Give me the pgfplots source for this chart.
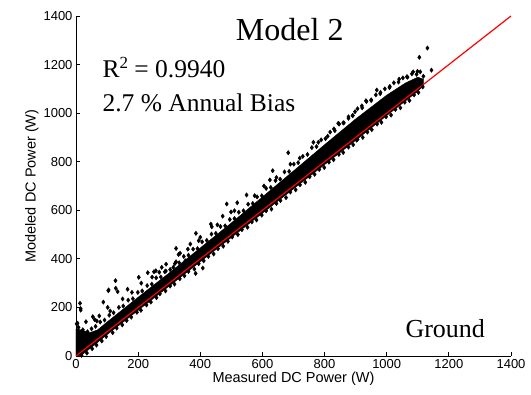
\documentclass[border=0pt]{standalone}
\usepackage{pgfplots}
\pgfplotsset{compat=1.18}
\usepackage{fontspec}
\setmainfont{Liberation Serif}
\newfontfamily\arial{Liberation Sans}
\begin{document}
\begin{tikzpicture}
\begin{axis}[
  at={(0,0)}, anchor=south west,
  scale only axis, width=435bp, height=340bp,
  xmin=0, xmax=1400, ymin=0, ymax=1400,
  axis x line*=bottom, axis y line*=left,
  xtick={0,200,...,1400}, ytick={0,200,...,1400},
  tick align=inside, major tick length=4bp,
  /pgf/number format/assume math mode=true,
  /pgf/number format/1000 sep={},
  tick label style={font=\arial\fontsize{13bp}{15bp}\selectfont, black},
  label style={font=\arial\fontsize{14.5bp}{16bp}\selectfont},
  xlabel={Measured DC Power (W)},
  ylabel={Modeled DC Power (W)},
  xlabel style={yshift=4bp},
  ylabel style={yshift=-2bp},
  axis line style={line width=0.8pt},
  every tick/.style={black, line width=0.8pt},
]
% dense core of the scatter
\addplot[fill=black, draw=black, line width=0.4pt] coordinates {
(0,0) (0,112) (20,106) (45,96) (70,108) (100,140) (200,242) (300,342) (400,445)
(500,548) (600,655) (700,762) (800,870) (900,976) (1000,1074) (1060,1124)
(1100,1148) (1118,1140)
(1118,1112) (1100,1090) (1000,990) (900,888) (800,788) (700,688) (600,588)
(500,488) (400,388) (300,288) (200,188) (100,88) (50,36) (20,6) (5,0)
} -- cycle;
% individual measurements
\addplot[only marks, mark=diamond*, mark size=2.2pt, black] table {
x y
8 118
22 108
37 100
50 112
63 122
78 140
92 148
107 168
121 178
138 200
152 206
168 230
183 236
199 262
213 268
229 290
244 296
258 322
273 325
289 350
303 356
318 380
332 384
347 410
362 415
377 440
391 442
406 470
421 476
436 502
450 505
465 533
480 536
495 562
510 566
524 592
539 598
554 625
569 628
583 655
598 660
612 690
627 694
642 722
657 728
671 758
686 760
701 790
715 796
730 822
745 830
759 858
774 862
789 890
803 895
818 922
833 928
847 955
862 960
877 985
891 990
906 1018
921 1022
935 1048
950 1052
965 1075
979 1080
994 1100
1009 1105
1023 1125
1038 1128
1052 1145
1067 1148
1081 1162
1096 1160
1108 1170
1118 1152
18 3
35 12
52 30
66 45
83 62
97 80
118 96
131 115
149 128
163 146
178 160
196 180
209 188
227 210
241 222
259 240
270 256
288 268
303 288
317 296
334 318
349 330
362 348
381 358
395 380
411 392
426 410
443 420
457 442
474 452
489 472
503 490
521 500
534 520
552 530
566 552
581 560
598 580
612 598
629 605
645 628
658 640
676 652
690 675
707 684
721 705
738 715
752 738
768 748
783 768
799 776
814 798
829 808
846 830
860 838
877 860
892 870
906 892
923 900
938 922
952 932
969 955
983 962
998 985
1014 992
1028 1015
1044 1022
1058 1045
1073 1052
1088 1075
1102 1085
1116 1108
60 150
75 165
110 185
150 235
180 262
210 300
245 325
290 378
330 418
360 440
395 475
455 540
510 598
575 660
605 700
645 735
690 790
720 815
780 880
810 905
830 935
860 960
890 990
920 1030
950 1055
980 1085
1010 1110
1040 1140
1065 1150
1085 1170
1131 1268
1105 1230
1144 1177
1099 1172
485 626
499 593
472 576
434 543
386 505
400 489
368 461
322 443
335 423
352 392
322 388
257 351
231 343
268 345
202 324
127 310
105 272
166 275
134 265
88 222
102 200
15 189
54 162
5 135
13 217
15 195
2 132
32 141
67 144
104 269
128 279
683 837
764 880
633 763
624 725
549 663
519 631
437 532
276 365
313 365
251 347
286 347
968 1095
933 1051
898 1006
877 979
844 958
903 889
408 362
385 340
};
% 1:1 line
\addplot[red, line width=1.2pt] coordinates {(0,0) (1400,1400)};
\node[font=\fontsize{32bp}{36bp}\selectfont, anchor=base] at (axis cs:688,1298) {Model 2};
\node[font=\fontsize{25.5bp}{28bp}\selectfont, anchor=base west, inner sep=0pt] at (axis cs:85,1145) {R\raisebox{0.36em}{\fontsize{17bp}{18bp}\selectfont 2} = 0.9940};
\node[font=\fontsize{25.5bp}{28bp}\selectfont, anchor=base west, inner sep=0pt] at (axis cs:85,1005) {2.7 \% Annual Bias};
\node[font=\fontsize{26bp}{28bp}\selectfont, anchor=base west, inner sep=0pt] at (axis cs:1060,77) {Ground};
\end{axis}
\path[use as bounding box] (-76bp,-39bp) rectangle (455bp,356bp);
\end{tikzpicture}
\end{document}
